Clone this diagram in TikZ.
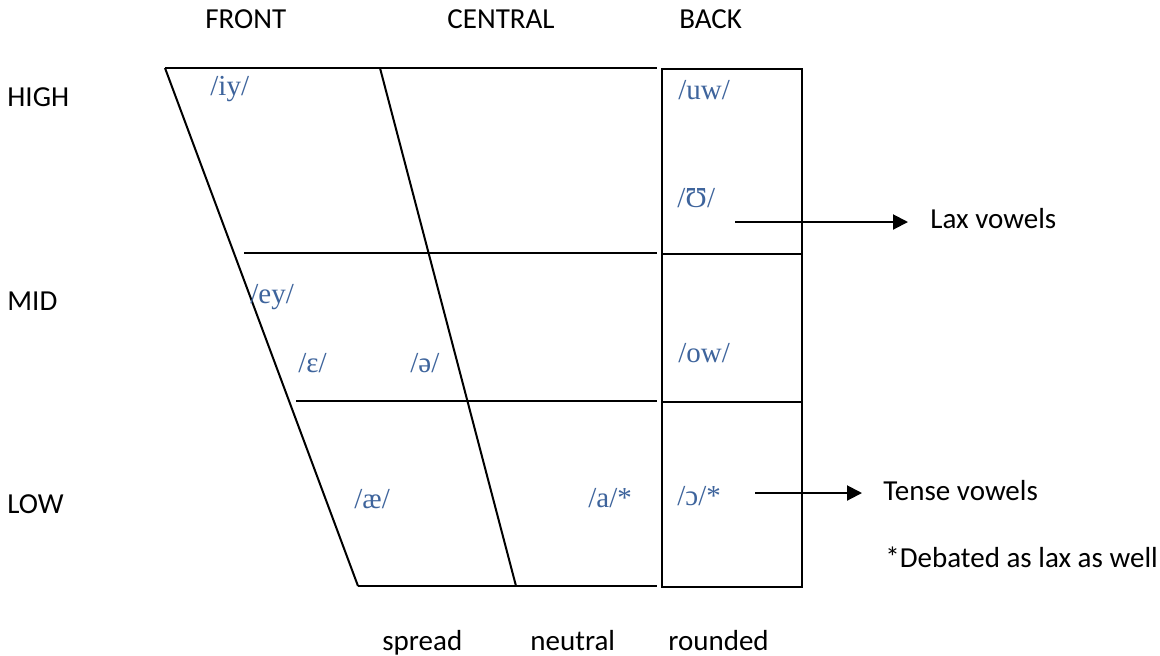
\documentclass[tikz,border=0pt]{standalone}
\usepackage{fontspec}
\setmainfont{Carlito}
\newfontfamily\ipafont{Liberation Serif}
\usetikzlibrary{arrows.meta}
\definecolor{ipablue}{RGB}{62,100,156}

\begin{document}
\begin{tikzpicture}[x=0.5pt,y=-0.5pt,
  chartline/.style={line width=1pt},
  caption/.style={font=\fontsize{14.5}{17}\selectfont, anchor=base west, inner sep=0pt},
  vowel/.style={font=\ipafont\fontsize{14.5}{17}\selectfont, text=ipablue, anchor=base west, inner sep=0pt},
  pointer/.style={line width=1pt, -{Triangle[length=7.5pt,width=7.5pt]}}]
\useasboundingbox (0,0) rectangle (1160,655);

% vowel quadrilateral
\coordinate (tl) at (165,68);
\coordinate (bl) at (358,586);
\coordinate (tc) at (380,68);
\coordinate (bc) at (516,586);
\coordinate (tr) at (657,68);
\coordinate (br) at (657,586);
\coordinate (h1l) at (244,253);
\coordinate (h1r) at (657,253);
\coordinate (h2l) at (296,401);
\coordinate (h2r) at (657,401);
\draw[chartline] (tl) -- (tr);
\draw[chartline] (tl) -- (bl);
\draw[chartline] (tc) -- (bc);
\draw[chartline] (h1l) -- (h1r);
\draw[chartline] (h2l) -- (h2r);
\draw[chartline] (bl) -- (br);

% back column (rounded)
\coordinate (bk1) at (662,69);
\coordinate (bk2) at (802,587);
\draw[chartline] (bk1) rectangle (bk2);
\draw[chartline] (662,254) -- (802,254);
\draw[chartline] (662,402) -- (802,402);

% column and row headings
\node[caption] (front) at (205,28) {FRONT};
\node[caption] (central) at (447,28) {CENTRAL};
\node[caption] (back) at (679,28) {BACK};
\node[caption] (high) at (7,106) {HIGH};
\node[caption] (mid) at (7,310) {MID};
\node[caption] (low) at (7,513) {LOW};
\node[caption] (spread) at (382,650) {spread};
\node[caption] (neutral) at (530,650) {neutral};
\node[caption] (rounded) at (668,650) {rounded};

% vowels
\node[vowel] (iy) at (210,95) {/iy/};
\node[vowel] (uw) at (678,99) {/uw/};
\node[vowel] (ups) at (677,207) {/Ʊ/};
\node[vowel] (ey) at (250,303) {/ey/};
\node[vowel] (eps) at (298,372) {/ɛ/};
\node[vowel] (schwa) at (410,372) {/ə/};
\node[vowel] (ow) at (678,362) {/ow/};
\node[vowel] (ae) at (354,508) {/æ/};
\node[vowel] (a) at (588,507) {/a/*};
\node[vowel] (oo) at (677,505) {/ɔ/*};

% annotations
\node[caption] (lax) at (930,228) {Lax vowels};
\node[caption] (tense) at (883,500) {Tense vowels};
\node[caption] (note) at (885,567) {*Debated as lax as well};
\coordinate (laxstart) at (735,222);
\coordinate (tensestart) at (755,493);
\draw[pointer, shorten >=11pt] (laxstart) -- (laxstart -| lax.west);
\draw[pointer, shorten >=10.5pt] (tensestart) -- (tensestart -| tense.west);
\end{tikzpicture}
\end{document}
